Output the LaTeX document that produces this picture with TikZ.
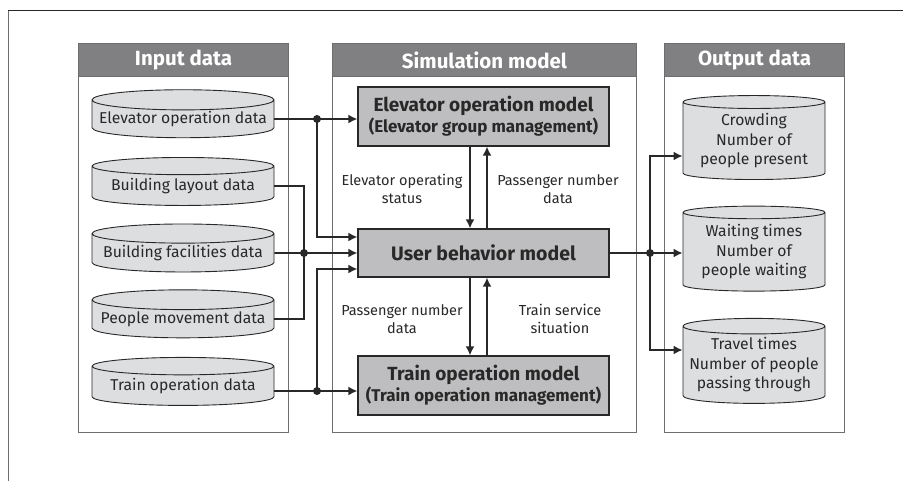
\documentclass[tikz,border=0pt]{standalone}
\usepackage{fontspec}
\setmainfont{Fira Sans}
\usepackage{tikz}
\usetikzlibrary{positioning,shapes.geometric,arrows.meta,calc}
\definecolor{headgray}{RGB}{128,128,130}
\definecolor{boxgray}{RGB}{190,190,192}
\definecolor{cylgray}{RGB}{221,222,224}
\definecolor{linegray}{RGB}{110,110,110}
\definecolor{txt}{RGB}{40,40,40}

\newcommand{\subline}[1]{{\fontsize{17}{21}\selectfont #1}}

\tikzset{
  panel/.style={draw=linegray, line width=1pt, fill=white, anchor=north west, minimum height=389pt, inner sep=0pt},
  header/.style={draw=linegray, line width=1pt, fill=headgray, anchor=north west, minimum height=33pt, inner sep=0pt,
    text=white, font=\fontsize{20.5}{22}\selectfont\bfseries},
  datacyl/.style={cylinder, shape border rotate=90, aspect=0.12, draw=txt, line width=0.9pt, fill=cylgray,
    text=txt, align=center, inner sep=0pt, font=\fontsize{15.7}{19.5}\selectfont},
  model/.style={draw=txt, line width=1.3pt, fill=boxgray, minimum width=251pt, inner sep=0pt, text=txt, align=center,
    font=\fontsize{19}{21}\selectfont\bfseries},
  note/.style={text=txt, align=center, font=\fontsize{14.5}{18}\selectfont},
  conn/.style={draw=txt, line width=1.6pt},
  flow/.style={conn, -{Latex[length=9pt,width=9pt]}},
  dot/.style={fill=txt}
}

\begin{document}
\begin{tikzpicture}[x=1pt,y=-1pt]
\useasboundingbox (0,0) rectangle (903,481);

% page frame
\draw[linegray, line width=1pt] (8,481) -- (8,11);
\draw[txt, line width=1pt] (8,11) -- (903,11);

% Panels
\node[panel, minimum width=210pt] (inpanel) at (78,43) {};
\node[header, minimum width=210pt] (inhead) at (78,43) {Input data};
\node[panel, minimum width=304pt] (simpanel) at (332,43) {};
\node[header, minimum width=304pt] (simhead) at (332,43) {Simulation model};
\node[panel, minimum width=180pt] (outpanel) at (664,43) {};
\node[header, minimum width=180pt] (outhead) at (664,43) {Output data};

% Input data
\node[datacyl, minimum width=182pt, minimum height=48pt] (eleop) at (183,119) {Elevator operation data};
\node[datacyl, minimum width=182pt, minimum height=48pt] (blay) at (183,186) {Building layout data};
\node[datacyl, minimum width=182pt, minimum height=48pt] (bfac) at (183,253) {Building facilities data};
\node[datacyl, minimum width=182pt, minimum height=48pt] (pmov) at (183,319) {People movement data};
\node[datacyl, minimum width=182pt, minimum height=48pt] (trop) at (183,386) {Train operation data};

% Simulation model
\node[model, minimum height=59pt] (elev) at (483.5,116.5) {Elevator operation model\\\subline{(Elevator group management)}};
\node[model, minimum height=48pt, font=\fontsize{19.5}{21}\selectfont\bfseries] (user) at (483.5,253) {User behavior model};
\node[model, minimum height=59pt] (train) at (483.5,385.5) {Train operation model\\\subline{(Train operation management)}};

% Output data
\node[datacyl, minimum width=142pt, minimum height=84pt] (crowd) at (754,141) {Crowding\\Number of\\people present};
\node[datacyl, minimum width=142pt, minimum height=85pt] (wait) at (754,252) {Waiting times\\Number of\\people waiting};
\node[datacyl, minimum width=142pt, minimum height=85pt] (travel) at (754,365) {Travel times\\Number of people\\passing through};

% junctions
\coordinate (j1) at (317,119);
\coordinate (j2) at (304,253);
\coordinate (j3) at (317,391);
\coordinate (j4) at (650,253);

% inputs
\draw[conn] (eleop.east |- j1) -- (j1);
\draw[flow] (j1) -- (elev.west |- j1);
\draw[flow] (j1) |- ([yshift=16pt]user.west);
\draw[conn] (blay.east) -| (j2);
\draw[conn] (pmov.east) -| (j2);
\draw[flow] (bfac.east) -- (user.west);
\draw[conn] (trop.east |- j3) -- (j3);
\draw[flow] (j3) -- (train.west |- j3);
\draw[flow] (j3) |- ([yshift=-16pt]user.west);

% between models
\draw[flow] ([xshift=-13.5pt]elev.south) -- ([xshift=-13.5pt]user.north);
\draw[flow] ([xshift=3.5pt]user.north) -- ([xshift=3.5pt]elev.south);
\draw[flow] ([xshift=-13.5pt]user.south) -- ([xshift=-13.5pt]train.north);
\draw[flow] ([xshift=3.5pt]train.north) -- ([xshift=3.5pt]user.south);

\node[note] (lbl1) at (402,189) {Elevator operating\\status};
\node[note] (lbl2) at (558,189) {Passenger number\\data};
\node[note] (lbl3) at (402,319) {Passenger number\\data};
\node[note] (lbl4) at (560,319) {Train service\\situation};

% outputs
\draw[conn] (user.east) -- (j4);
\draw[flow] (j4) |- ([yshift=-15pt]crowd.west);
\draw[flow] (j4) -- (wait.west |- j4);
\draw[flow] (j4) |- ([yshift=15pt]travel.west);

\foreach \j in {j1,j2,j3,j4} \fill[dot] (\j) circle (4);
\end{tikzpicture}
\end{document}
